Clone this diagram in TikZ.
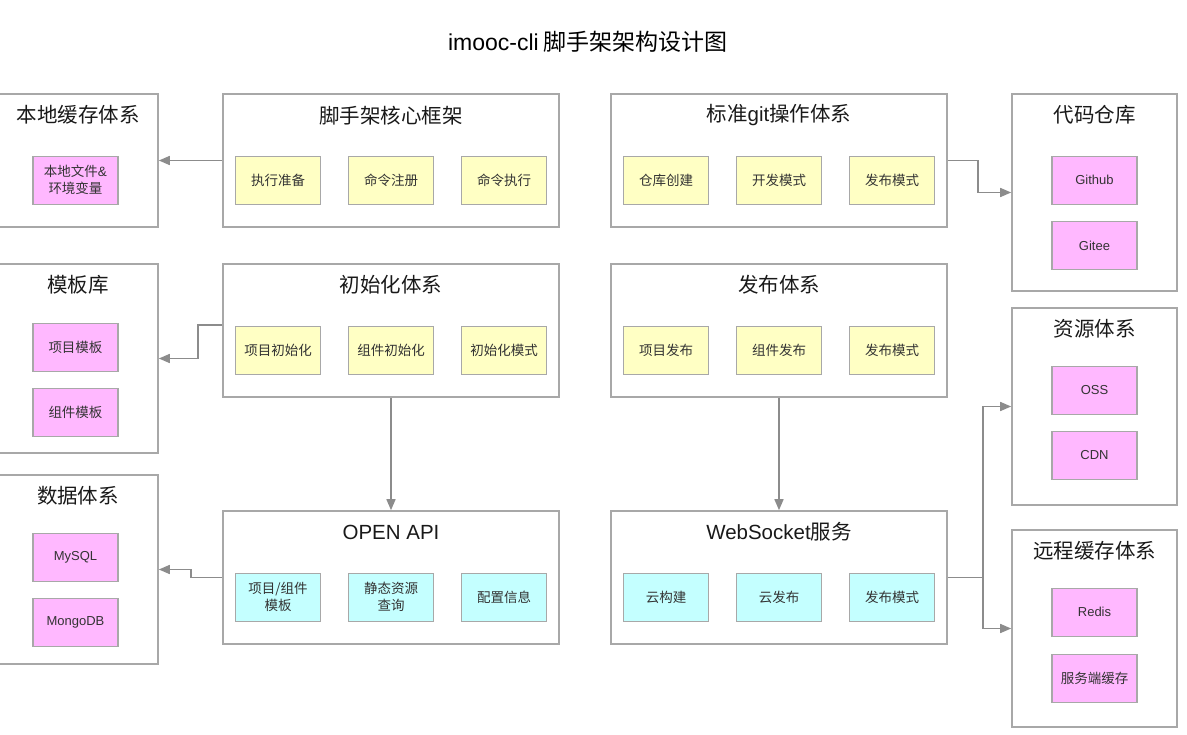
\documentclass[tikz,border=0pt]{standalone}
\usepackage{fontspec}
\setmainfont{Noto Sans CJK SC}
\newfontfamily\lat{Liberation Sans}
\usetikzlibrary{arrows.meta,positioning}
\definecolor{frameGray}{HTML}{A8A8A8}
\definecolor{linkGray}{HTML}{8C8C8C}
\definecolor{cellYellow}{HTML}{FFFFC4}
\definecolor{cellPink}{HTML}{FFB8FF}
\definecolor{cellCyan}{HTML}{C4FFFF}

\begin{document}
\begin{tikzpicture}[x=1pt,y=-1pt]
		\tikzset{frame/.style = {draw=frameGray, line width=1.6pt, inner sep=0pt,
				minimum width=336pt, minimum height=133pt},
			boxtitle/.style = {font=\fontsize{20.5}{24}\selectfont, text=black!90},
			cell/.style = {draw=frameGray, line width=1.2pt, minimum width=85pt, minimum height=48pt,
				align=center, text=black!80, font=\fontsize{13.5}{17}\selectfont},
			yellowbox/.style = {cell, fill=cellYellow},
			pinkbox/.style = {cell, fill=cellPink},
			cyanbox/.style = {cell, fill=cellCyan},
			latcell/.style = {font=\lat\fontsize{13}{17}\selectfont},
			line/.style = {draw=linkGray, line width=1.6pt},
			link/.style = {line, -{Triangle[length=11pt,width=9pt]}}}
		\useasboundingbox (0,0) rectangle (1187,735);
		\node[font=\fontsize{23}{28}\selectfont] (title) at (588,42) {{\lat imooc-cli} 脚手架架构设计图};
		% middle frames
		\node[frame] (core) at (391,160.5) {};
		\node[frame] (git) at (779,160.5) {};
		\node[frame] (init) at (391,330.5) {};
		\node[frame] (pub) at (779,330.5) {};
		\node[frame] (api) at (391,577.5) {};
		\node[frame] (ws) at (779,577.5) {};
		% side frames
		\node[frame, minimum width=160pt, minimum height=133pt] (cache) at (78,160.5) {};
		\node[frame, minimum width=160pt, minimum height=189pt] (tpl) at (78,358.5) {};
		\node[frame, minimum width=160pt, minimum height=189pt] (data) at (78,569.5) {};
		\node[frame, minimum width=165pt, minimum height=197pt] (repo) at (1094.5,192.5) {};
		\node[frame, minimum width=165pt, minimum height=197pt] (res) at (1094.5,406.5) {};
		\node[frame, minimum width=165pt, minimum height=197pt] (remote) at (1094.5,628.5) {};
		\foreach \n/\t in {core/脚手架核心框架, git/标准{\lat git}操作体系, init/初始化体系, pub/发布体系,
			api/{\lat OPEN API}, ws/{\lat WebSocket}服务, cache/本地缓存体系, tpl/模板库, data/数据体系,
			repo/代码仓库, res/资源体系, remote/远程缓存体系}
		\node[boxtitle] (\n-t) at ([yshift=-22pt]\n.north) {\t};
		% cells
		\foreach \t [count=\i] in {执行准备,命令注册,命令执行}
		\node[yellowbox] (core\i) at ([xshift={(\i-2)*113}, yshift=-87pt]core.north) {\t};
		\foreach \t [count=\i] in {仓库创建,开发模式,发布模式}
		\node[yellowbox] (git\i) at ([xshift={(\i-2)*113}, yshift=-87pt]git.north) {\t};
		\foreach \t [count=\i] in {项目初始化,组件初始化,初始化模式}
		\node[yellowbox] (init\i) at ([xshift={(\i-2)*113}, yshift=-87pt]init.north) {\t};
		\foreach \t [count=\i] in {项目发布,组件发布,发布模式}
		\node[yellowbox] (pub\i) at ([xshift={(\i-2)*113}, yshift=-87pt]pub.north) {\t};
		\foreach \t [count=\i] in {{项目/组件\\模板},{静态资源\\查询},配置信息}
		\node[cyanbox] (api\i) at ([xshift={(\i-2)*113}, yshift=-87pt]api.north) {\t};
		\foreach \t [count=\i] in {云构建,云发布,发布模式}
		\node[cyanbox] (ws\i) at ([xshift={(\i-2)*113}, yshift=-87pt]ws.north) {\t};
		\node[pinkbox] (cache1) at ([xshift=-2.5pt, yshift=-87pt]cache.north) {本地文件{\lat\&}\\环境变量};
		\node[pinkbox] (tpl1) at ([xshift=-2.5pt, yshift=-84pt]tpl.north) {项目模板};
		\node[pinkbox, below=16pt of tpl1] (tpl2) {组件模板};
		\node[pinkbox, latcell] (data1) at ([xshift=-2.5pt, yshift=-83pt]data.north) {MySQL};
		\node[pinkbox, latcell, below=16pt of data1] (data2) {MongoDB};
		\node[pinkbox, latcell] (repo1) at ([yshift=-87pt]repo.north) {Github};
		\node[pinkbox, latcell, below=16pt of repo1] (repo2) {Gitee};
		\node[pinkbox, latcell] (res1) at ([yshift=-83pt]res.north) {OSS};
		\node[pinkbox, latcell, below=16pt of res1] (res2) {CDN};
		\node[pinkbox, latcell] (remote1) at ([yshift=-83pt]remote.north) {Redis};
		\node[pinkbox, below=17pt of remote1] (remote2) {服务端缓存};
		% links
		\draw[link] (core.west) -- (cache.east);
		\draw[link] (git.east) -- ++(30,0) |- (repo.west);
		\draw[link] ([yshift=5.5pt]init.west) -- ++(-24,0) |- (tpl.east);
		\draw[link] (api.west) -- ++(-31,0) |- (data.east);
		\draw[link] (init.south) -- (api.north);
		\draw[link] (pub.south) -- (ws.north);
		\draw[line] (ws.east) -- ++(35,0) coordinate (split);
		\draw[link] (split) |- (res.west);
		\draw[link] (split) |- (remote.west);
\end{tikzpicture}
\end{document}
